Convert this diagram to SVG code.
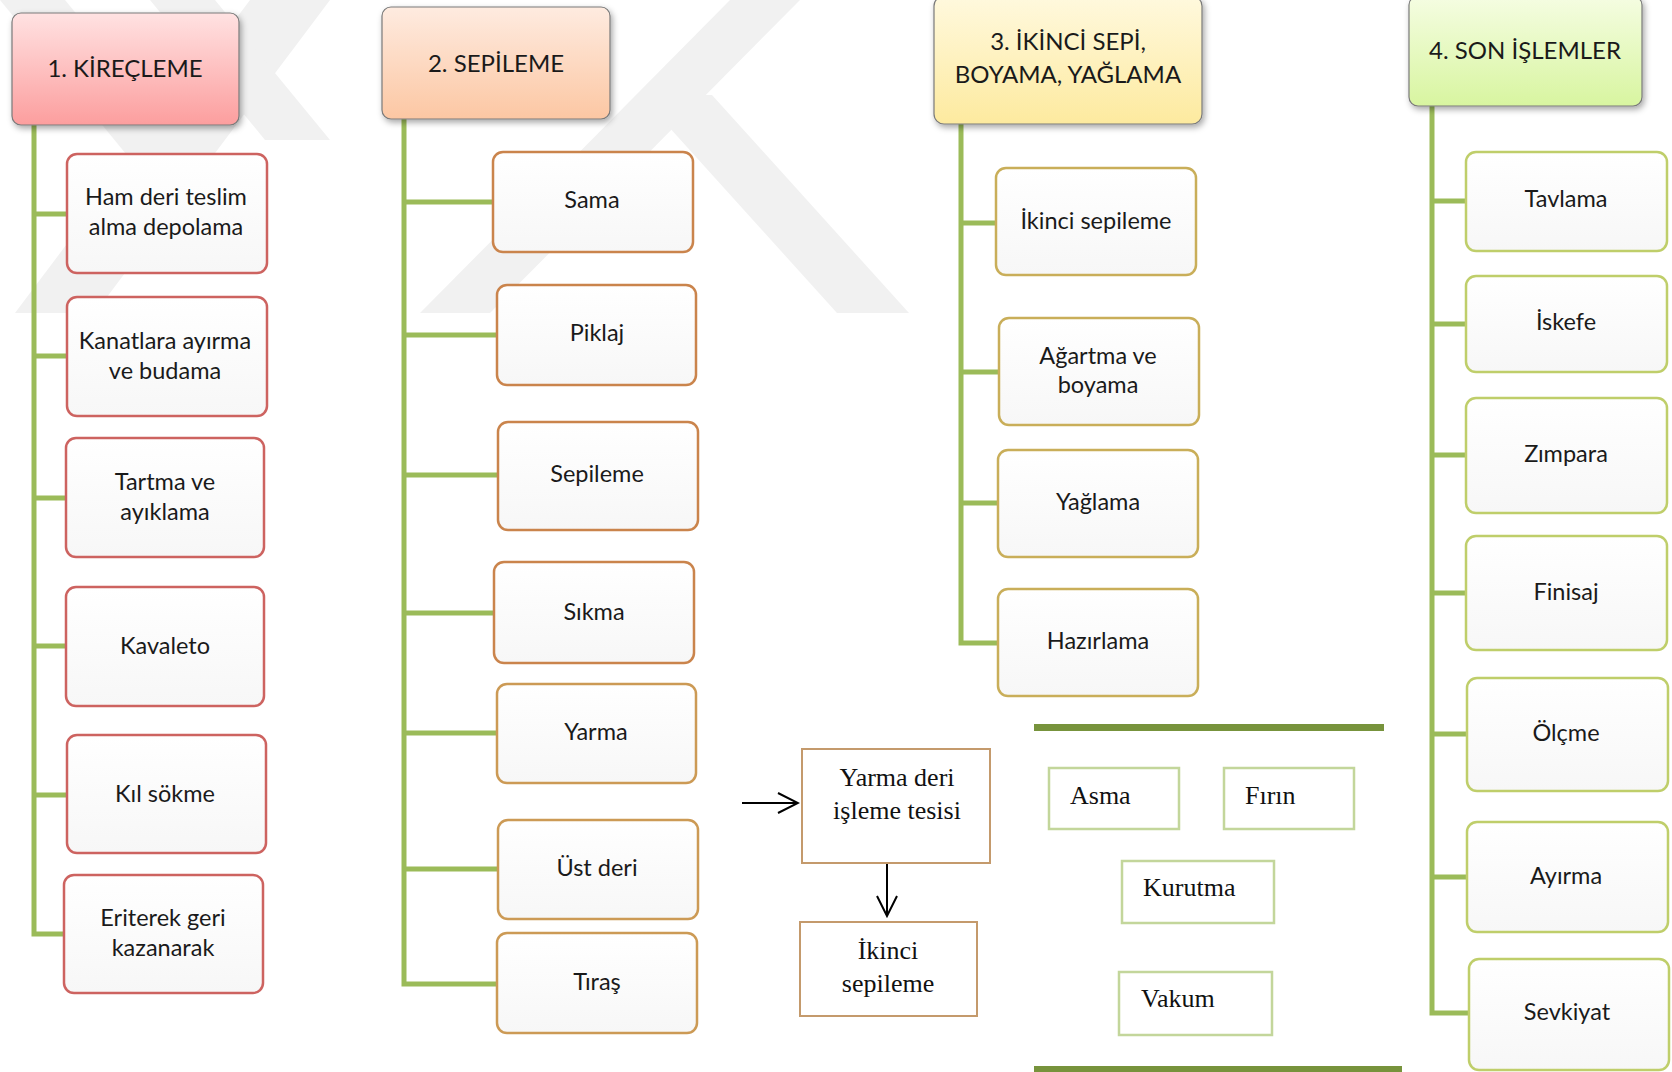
<svg xmlns="http://www.w3.org/2000/svg" width="1672" height="1072" viewBox="0 0 1672 1072">
<defs>
<style>
.wm{fill:#f1f1f1}
.conn{fill:none;stroke:#9bbb59;stroke-width:5;stroke-linejoin:miter}
.hdr{stroke:#7a7a7a;stroke-width:1.2}
.ht{font-family:Lato,"Liberation Sans",sans-serif;font-size:24px;fill:#1a1a1a;text-anchor:middle}
.node rect{fill:url(#nf);stroke-width:2.5}
.nt{font-family:Lato,"Liberation Sans",sans-serif;font-size:23.5px;fill:#1a1a1a;text-anchor:middle}
.c1{stroke:#cd6360}
.c2{stroke:#ca844c}
.c2b{stroke:#cc9a55}
.c3{stroke:#c9ae59}
.c4{stroke:#bfce6a}
.sq rect{fill:#ffffff;stroke:#c49a6c;stroke-width:2}
.gq rect{fill:#ffffff;stroke:#c3d69b;stroke-width:2.5}
.st{font-family:"Liberation Serif",serif;font-size:26px;fill:#111111}
.arr{fill:none;stroke:#000000;stroke-width:2}
.bar{fill:#77933c}
</style>
<linearGradient id="nf" x1="0" y1="0" x2="0" y2="1"><stop offset="0" stop-color="#ffffff"/><stop offset="1" stop-color="#f7f7f7"/></linearGradient>
<linearGradient id="g1" x1="0" y1="0" x2="0" y2="1"><stop offset="0" stop-color="#ffe2e2"/><stop offset="1" stop-color="#fc9e9e"/></linearGradient>
<linearGradient id="g2" x1="0" y1="0" x2="0" y2="1"><stop offset="0" stop-color="#feebe0"/><stop offset="1" stop-color="#fcc7a3"/></linearGradient>
<linearGradient id="g3" x1="0" y1="0" x2="0" y2="1"><stop offset="0" stop-color="#fff9de"/><stop offset="1" stop-color="#fdea9f"/></linearGradient>
<linearGradient id="g4" x1="0" y1="0" x2="0" y2="1"><stop offset="0" stop-color="#f5fde2"/><stop offset="1" stop-color="#d8f5a0"/></linearGradient>
<filter id="sh" x="-10%" y="-10%" width="125%" height="135%"><feDropShadow dx="2" dy="3" stdDeviation="3" flood-color="#000000" flood-opacity="0.35"/></filter>
<marker id="ah" viewBox="-22 -12 24 24" refX="0" refY="0" markerWidth="24" markerHeight="24" markerUnits="userSpaceOnUse" orient="auto"><path d="M-20,-10 L0,0 L-20,10" fill="none" stroke="#000000" stroke-width="2"/></marker>
</defs>

<g id="watermark">
<polygon class="wm" points="250,0 330,0 95,313 15,313"/>
<polygon class="wm" points="0,0 65,0 200,165 135,165"/>
<polygon class="wm" points="150,0 215,0 330,140 265,140"/>
<polygon class="wm" points="730,0 800,0 490,313 420,313"/>
<polygon class="wm" points="640,95 712,95 909,313 837,313"/>
</g>

<g id="connectors">
<path class="conn" d="M34,125 V934 H64 M34,214 H67 M34,356 H67 M34,498 H66 M34,646 H66 M34,795 H67"/>
<path class="conn" d="M404,119 V984 H497 M404,202 H493 M404,335 H497 M404,475 H498 M404,613 H494 M404,733 H497 M404,869 H498"/>
<path class="conn" d="M961,124 V643 H998 M961,223 H996 M961,372 H999 M961,503 H998"/>
<path class="conn" d="M1432,106 V1013 H1469 M1432,201 H1466 M1432,324 H1466 M1432,455 H1466 M1432,593 H1466 M1432,734 H1467 M1432,877 H1467"/>
<line class="arr" x1="742" y1="803" x2="798" y2="803" marker-end="url(#ah)"/>
<line class="arr" x1="887" y1="863" x2="887" y2="916" marker-end="url(#ah)"/>
</g>

<g id="h1"><rect class="hdr" x="12" y="13" width="227" height="112" rx="9" fill="url(#g1)" filter="url(#sh)"/><text class="ht" x="125" y="77">1. KİREÇLEME</text></g>
<g id="h2"><rect class="hdr" x="382" y="7" width="228" height="112" rx="9" fill="url(#g2)" filter="url(#sh)"/><text class="ht" x="496" y="72">2. SEPİLEME</text></g>
<g id="h3"><rect class="hdr" x="934" y="-4" width="268" height="128" rx="10" fill="url(#g3)" filter="url(#sh)"/><text class="ht" x="1068" y="50">3. İKİNCİ SEPİ,</text><text class="ht" x="1068" y="83">BOYAMA, YAĞLAMA</text></g>
<g id="h4"><rect class="hdr" x="1409" y="-4" width="233" height="110" rx="9" fill="url(#g4)" filter="url(#sh)"/><text class="ht" x="1525" y="59">4. SON İŞLEMLER</text></g>

<g id="n1a" class="node"><rect class="c1" x="67" y="154" width="200" height="119" rx="10"/><text class="nt" x="166" y="205">Ham deri teslim</text><text class="nt" x="166" y="235">alma depolama</text></g>
<g id="n1b" class="node"><rect class="c1" x="67" y="297" width="200" height="119" rx="10"/><text class="nt" x="165" y="349">Kanatlara ayırma</text><text class="nt" x="165" y="379">ve budama</text></g>
<g id="n1c" class="node"><rect class="c1" x="66" y="438" width="198" height="119" rx="10"/><text class="nt" x="165" y="490">Tartma ve</text><text class="nt" x="165" y="520">ayıklama</text></g>
<g id="n1d" class="node"><rect class="c1" x="66" y="587" width="198" height="119" rx="10"/><text class="nt" x="165" y="654">Kavaleto</text></g>
<g id="n1e" class="node"><rect class="c1" x="67" y="735" width="199" height="118" rx="10"/><text class="nt" x="165" y="802">Kıl sökme</text></g>
<g id="n1f" class="node"><rect class="c1" x="64" y="875" width="199" height="118" rx="10"/><text class="nt" x="163" y="926">Eriterek geri</text><text class="nt" x="163" y="956">kazanarak</text></g>

<g id="n2a" class="node"><rect class="c2" x="493" y="152" width="200" height="100" rx="10"/><text class="nt" x="592" y="208">Sama</text></g>
<g id="n2b" class="node"><rect class="c2" x="497" y="285" width="199" height="100" rx="10"/><text class="nt" x="597" y="341">Piklaj</text></g>
<g id="n2c" class="node"><rect class="c2" x="498" y="422" width="200" height="108" rx="10"/><text class="nt" x="597" y="482">Sepileme</text></g>
<g id="n2d" class="node"><rect class="c2" x="494" y="562" width="200" height="101" rx="10"/><text class="nt" x="594" y="620">Sıkma</text></g>
<g id="n2e" class="node"><rect class="c2b" x="497" y="684" width="199" height="99" rx="10"/><text class="nt" x="596" y="740">Yarma</text></g>
<g id="n2f" class="node"><rect class="c2b" x="498" y="820" width="200" height="99" rx="10"/><text class="nt" x="597" y="876">Üst deri</text></g>
<g id="n2g" class="node"><rect class="c2b" x="497" y="933" width="200" height="100" rx="10"/><text class="nt" x="597" y="990">Tıraş</text></g>

<g id="n3a" class="node"><rect class="c3" x="996" y="168" width="200" height="107" rx="10"/><text class="nt" x="1096" y="229">İkinci sepileme</text></g>
<g id="n3b" class="node"><rect class="c3" x="999" y="318" width="200" height="107" rx="10"/><text class="nt" x="1098" y="364">Ağartma ve</text><text class="nt" x="1098" y="393">boyama</text></g>
<g id="n3c" class="node"><rect class="c3" x="998" y="450" width="200" height="107" rx="10"/><text class="nt" x="1098" y="510">Yağlama</text></g>
<g id="n3d" class="node"><rect class="c3" x="998" y="589" width="200" height="107" rx="10"/><text class="nt" x="1098" y="649">Hazırlama</text></g>

<g id="n4a" class="node"><rect class="c4" x="1466" y="152" width="201" height="99" rx="10"/><text class="nt" x="1566" y="207">Tavlama</text></g>
<g id="n4b" class="node"><rect class="c4" x="1466" y="276" width="201" height="96" rx="10"/><text class="nt" x="1566" y="330">İskefe</text></g>
<g id="n4c" class="node"><rect class="c4" x="1466" y="398" width="201" height="115" rx="10"/><text class="nt" x="1566" y="462">Zımpara</text></g>
<g id="n4d" class="node"><rect class="c4" x="1466" y="536" width="201" height="114" rx="10"/><text class="nt" x="1566" y="600">Finisaj</text></g>
<g id="n4e" class="node"><rect class="c4" x="1467" y="678" width="201" height="113" rx="10"/><text class="nt" x="1566" y="741">Ölçme</text></g>
<g id="n4f" class="node"><rect class="c4" x="1467" y="822" width="201" height="110" rx="10"/><text class="nt" x="1566" y="884">Ayırma</text></g>
<g id="n4g" class="node"><rect class="c4" x="1469" y="959" width="200" height="111" rx="10"/><text class="nt" x="1567" y="1020">Sevkiyat</text></g>

<g id="yarma-tesisi" class="sq"><rect x="802" y="749" width="188" height="114"/><text class="st" x="897" y="786" text-anchor="middle">Yarma deri</text><text class="st" x="897" y="819" text-anchor="middle">işleme tesisi</text></g>
<g id="ikinci-sepileme" class="sq"><rect x="800" y="922" width="177" height="94"/><text class="st" x="888" y="959" text-anchor="middle">İkinci</text><text class="st" x="888" y="992" text-anchor="middle">sepileme</text></g>

<rect class="bar" x="1034" y="724" width="350" height="7"/>
<rect class="bar" x="1034" y="1066" width="368" height="8"/>
<g id="asma" class="gq"><rect x="1049" y="768" width="130" height="61"/><text class="st" x="1070" y="804">Asma</text></g>
<g id="firin" class="gq"><rect x="1224" y="768" width="130" height="61"/><text class="st" x="1245" y="804">Fırın</text></g>
<g id="kurutma" class="gq"><rect x="1122" y="861" width="152" height="62"/><text class="st" x="1143" y="896">Kurutma</text></g>
<g id="vakum" class="gq"><rect x="1119" y="972" width="153" height="63"/><text class="st" x="1141" y="1007">Vakum</text></g>
</svg>
